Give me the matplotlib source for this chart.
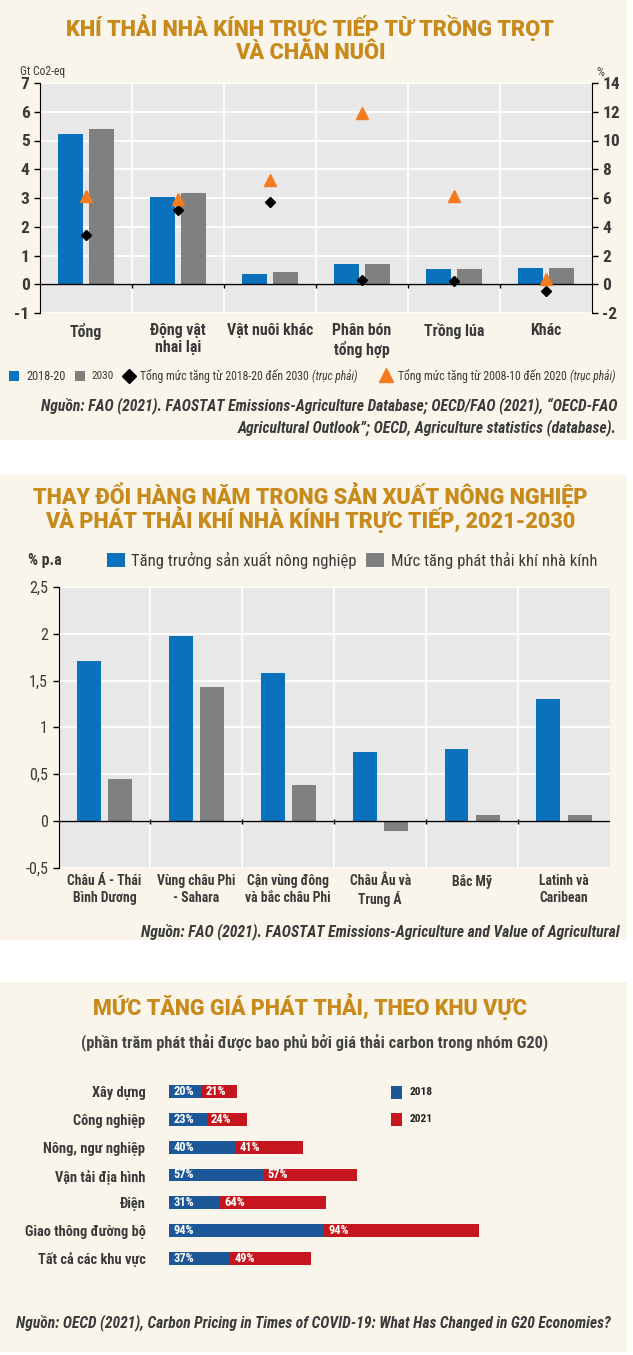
import matplotlib
matplotlib.use("Agg")
import matplotlib.pyplot as plt
from matplotlib.patches import Rectangle
import numpy as np

W, H = 633, 1355

# Biểu đồ 1: khí thải nhà kính trực tiếp
nhom_1 = ["Tổng", "Động vật\nnhai lại", "Vật nuôi khác", "Phân bón\ntổng hợp", "Trồng lúa", "Khác"]
phat_thai_2018_20 = [5.22, 3.03, 0.36, 0.71, 0.53, 0.58]
phat_thai_2030 = [5.40, 3.17, 0.41, 0.71, 0.53, 0.58]
tang_2018_2030 = [3.45, 5.2, 5.75, 0.28, 0.2, -0.5]
tang_2008_2020 = [6.15, 5.95, 7.25, 11.9, 6.15, 0.4]

# Biểu đồ 2: thay đổi hàng năm
khu_vuc = ["Châu Á - Thái\nBình Dương", "Vùng châu Phi\n- Sahara", "Cận vùng đông\nvà bắc châu Phi",
           "Châu Âu và\nTrung Á", "Bắc Mỹ", "Latinh và\nCaribean"]
tang_truong_sx = [1.71, 1.975, 1.58, 0.73, 0.77, 1.30]
tang_phat_thai = [0.45, 1.43, 0.38, -0.11, 0.06, 0.06]
ticks_2 = [-0.5, 0, 0.5, 1, 1.5, 2, 2.5]

# Biểu đồ 3: giá phát thải theo khu vực
linh_vuc = ["Xây dựng", "Công nghiệp", "Nông, ngư nghiệp", "Vận tải địa hình", "Điện",
            "Giao thông đường bộ", "Tất cả các khu vực"]
gia_2018 = [20, 23, 40, 57, 31, 94, 37]
gia_2021 = [21, 24, 41, 57, 64, 94, 49]

KEM = "#f9f5eb"
NEN = "#e8e8e8"
XANH = "#0a72bd"
XAM = "#808080"
CAM = "#f47b20"
VANG = "#c98a1c"
XANH3 = "#1b5799"
DO3 = "#c5161d"
CHU = "#3a3a3a"

plt.rcParams["font.family"] = ["Roboto Condensed", "Roboto", "DejaVu Sans"]
plt.rcParams["axes.unicode_minus"] = False

fig = plt.figure(figsize=(W / 100, H / 100), dpi=100)
fig.patch.set_facecolor("white")
r = fig.canvas.get_renderer()

bg = fig.add_axes([0, 0, 1, 1])
bg.set_xlim(0, W)
bg.set_ylim(H, 0)
bg.axis("off")
bg.set_zorder(-1)
for y0, y1 in [(0, 440), (475, 940), (982, 1352)]:
    bg.add_patch(Rectangle((0, y0), 627, y1 - y0, color=KEM, lw=0))


def px_axes(x0, y0, x1, y1):
    return fig.add_axes([x0 / W, 1 - y1 / H, (x1 - x0) / W, (y1 - y0) / H])


def fit(t, width):
    w = t.get_window_extent(r).width
    t.set_fontsize(t.get_fontsize() * width / w)
    return t.get_fontsize()


def after(t, gap=0):
    # vị trí x (pixel) ngay sau một dòng chữ
    return t.get_window_extent(r).x1 + gap


def tieu_de(lines, y0, dy, width):
    kw = dict(ha="center", va="center", color=VANG, fontweight="black", family=["Roboto", "DejaVu Sans"])
    t = bg.text(310, y0, lines[0], fontsize=16, **kw)
    fs = fit(t, width)
    for i, s in enumerate(lines[1:]):
        bg.text(310, y0 + dy * (i + 1), s, fontsize=fs, **kw)


def chu(x, y, s, width, **kw):
    kw.setdefault("color", CHU)
    kw.setdefault("va", "center")
    t = bg.text(x, y, s, fontsize=10, **kw)
    fit(t, width)
    return t


# ---------------- Biểu đồ 1 ----------------
tieu_de(["KHÍ THẢI NHÀ KÍNH TRỰC TIẾP TỪ TRỒNG TRỌT", "VÀ CHĂN NUÔI"], 28, 25, 491)

x = np.arange(len(nhom_1))
ax1 = px_axes(40, 83, 592, 313)
ax1.set_facecolor(NEN)
ax1.bar(x - 0.165, phat_thai_2018_20, 0.27, color=XANH, zorder=3)
ax1.bar(x + 0.165, phat_thai_2030, 0.27, color=XAM, zorder=3)
ax1.set_xlim(-0.5, len(x) - 0.5)
ax1.set_ylim(-1, 7)
ax1.set_yticks(range(-1, 8))
ax1.yaxis.grid(True, color="white", lw=1.3)
ax1.set_axisbelow(True)
for b in x[:-1] + 0.5:
    ax1.axvline(b, color="white", lw=1.3, zorder=1)
ax1.axhline(0, color="black", lw=1, zorder=4)
ax1.vlines(x[:-1] + 0.5, -0.12, 0, color="black", lw=1, zorder=4)
for s in ["top", "bottom", "right"]:
    ax1.spines[s].set_visible(False)
ax1.tick_params(axis="y", length=4, width=1, labelsize=12.5, labelcolor=CHU)
ax1.set_xticks(x, nhom_1)
ax1.tick_params(axis="x", length=0, pad=7, labelsize=10.5, labelcolor=CHU)
for lb in ax1.get_xticklabels() + ax1.get_yticklabels():
    lb.set_fontweight("bold")

ax1r = ax1.twinx()
ax1r.plot(x, tang_2018_2030, "D", ms=5.5, color="black", ls="none", zorder=5)
ax1r.plot(x, tang_2008_2020, "^", ms=8, color=CAM, ls="none", zorder=5)
ax1r.set_ylim(-2, 14)
ax1r.set_yticks(range(-2, 15, 2))
for s in ["top", "bottom", "left"]:
    ax1r.spines[s].set_visible(False)
ax1r.tick_params(axis="y", length=4, width=1, labelsize=12.5, labelcolor=CHU)
for lb in ax1r.get_yticklabels():
    lb.set_fontweight("bold")

chu(20, 72, "Gt Co2-eq", 45)
chu(596, 72, "%", 8)

# chú giải biểu đồ 1
ly = 376
bg.add_patch(Rectangle((9, ly - 5), 10, 10, color=XANH, lw=0))
chu(26, ly, "2018-20", 39)
bg.add_patch(Rectangle((75, ly - 5), 10, 10, color=XAM, lw=0))
chu(91, ly, "2030", 22)
bg.plot(129, ly, "D", ms=7, color="black")
t = chu(140, ly, "Tổng mức tăng từ 2018-20 đến 2030", 168)
chu(after(t, 3), ly, "(trục phải)", 46, style="italic")
bg.plot(386, ly - 1, "^", ms=10, color=CAM)
t = chu(398, ly, "Tổng mức tăng từ 2008-10 đến 2020", 168)
chu(after(t, 3), ly, "(trục phải)", 46, style="italic")

t = chu(617, 406, "Nguồn: FAO (2021). FAOSTAT Emissions-Agriculture Database; OECD/FAO (2021), “OECD-FAO", 577,
        ha="right", style="italic", fontweight="bold")
bg.text(617, 428, "Agricultural Outlook”; OECD, Agriculture statistics (database).", ha="right", va="center",
        fontsize=t.get_fontsize(), color=CHU, style="italic", fontweight="bold")

# ---------------- Biểu đồ 2 ----------------
tieu_de(["THAY ĐỔI HÀNG NĂM TRONG SẢN XUẤT NÔNG NGHIỆP",
         "VÀ PHÁT THẢI KHÍ NHÀ KÍNH TRỰC TIẾP, 2021-2030"], 495, 25, 555)

x2 = np.arange(len(khu_vuc))
ax2 = px_axes(58.5, 587, 610, 867.5)
ax2.set_facecolor(NEN)
ax2.bar(x2 - 0.17, tang_truong_sx, 0.26, color=XANH, zorder=3)
ax2.bar(x2 + 0.17, tang_phat_thai, 0.26, color=XAM, zorder=3)
ax2.set_xlim(-0.5, len(x2) - 0.5)
ax2.set_ylim(-0.5, 2.5)
ax2.set_yticks(ticks_2, [f"{v:g}".replace(".", ",") for v in ticks_2])
ax2.yaxis.grid(True, color="white", lw=1.3)
ax2.set_axisbelow(True)
for b in x2[:-1] + 0.5:
    ax2.axvline(b, color="white", lw=1.3, zorder=1)
ax2.axhline(0, color="black", lw=1, zorder=4)
ax2.vlines(x2[:-1] + 0.5, -0.04, 0.02, color="black", lw=1, zorder=4)
for s in ["top", "bottom", "right"]:
    ax2.spines[s].set_visible(False)
ax2.tick_params(axis="y", length=4, width=1, labelsize=11.5, labelcolor=CHU)
ax2.set_xticks(x2, khu_vuc)
ax2.tick_params(axis="x", length=0, pad=5, labelsize=10, labelcolor=CHU)
for lb in ax2.get_xticklabels():
    lb.set_fontweight("bold")

ly = 560
chu(28, ly, "% p.a", 34, fontweight="bold")
bg.add_patch(Rectangle((107, ly - 7), 18, 14, color=XANH, lw=0))
chu(131, ly, "Tăng trưởng sản xuất nông nghiệp", 226)
bg.add_patch(Rectangle((366, ly - 7), 18, 14, color=XAM, lw=0))
chu(391, ly, "Mức tăng phát thải khí nhà kính", 206)

chu(620, 932, "Nguồn: FAO (2021). FAOSTAT Emissions-Agriculture and Value of Agricultural", 476,
    ha="right", style="italic", fontweight="bold")

# ---------------- Biểu đồ 3 ----------------
tieu_de(["MỨC TĂNG GIÁ PHÁT THẢI, THEO KHU VỰC"], 1007, 25, 437)
chu(315, 1042, "(phần trăm phát thải được bao phủ bởi giá thải carbon trong nhóm G20)", 465,
    ha="center", color="#444444", fontweight="bold")

y3 = np.arange(len(linh_vuc))
ax3 = px_axes(169, 1078, 620, 1272)
ax3.barh(y3, gia_2018, 0.46, color=XANH3)
ax3.barh(y3, gia_2021, 0.46, left=gia_2018, color=DO3)
ax3.set_xlim(0, (620 - 169) / 1.65)
ax3.set_ylim(len(y3) - 0.5, -0.5)
ax3.patch.set_visible(False)
for s in ax3.spines.values():
    s.set_visible(False)
ax3.xaxis.set_visible(False)
ax3.set_yticks(y3, linh_vuc)
ax3.tick_params(axis="y", length=0, pad=17, labelsize=10, labelcolor=CHU)
for lb in ax3.get_yticklabels():
    lb.set_fontweight("bold")
for i in range(len(y3)):
    ax3.text(2.5, i, f"{gia_2018[i]}%", va="center", color="white", fontsize=9, fontweight="bold")
    ax3.text(gia_2018[i] + 2.5, i, f"{gia_2021[i]}%", va="center", color="white", fontsize=9, fontweight="bold")

bg.add_patch(Rectangle((391, 1086), 11, 13, color=XANH3, lw=0))
chu(410, 1092, "2018", 23, color="#222222", fontweight="bold")
bg.add_patch(Rectangle((391, 1113), 11, 13, color=DO3, lw=0))
chu(410, 1119, "2021", 23, color="#222222", fontweight="bold")

chu(16, 1323, "Nguồn: OECD (2021), Carbon Pricing in Times of COVID-19: What Has Changed in G20 Economies?", 595,
    style="italic", fontweight="bold")

# cỡ chữ nhãn trục theo bề rộng của bản gốc
fig.canvas.draw()
for labels, k, width in [(ax1.get_xticklabels(), 2, 87), (ax2.get_xticklabels(), 2, 85),
                         (ax3.get_yticklabels(), 5, 121)]:
    fs = fit(labels[k], width)
    for lb in labels:
        lb.set_fontsize(fs)

fig.savefig("out.png", dpi=100, facecolor=fig.get_facecolor())
